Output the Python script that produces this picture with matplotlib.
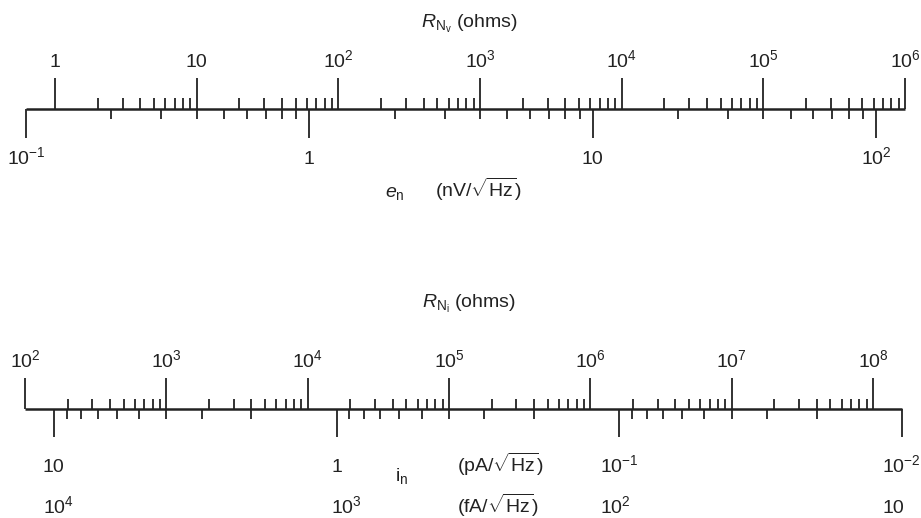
import matplotlib.pyplot as plt

plt.rcParams['font.family'] = ['Liberation Sans', 'DejaVu Sans']
plt.rcParams['mathtext.fontset'] = 'custom'
plt.rcParams['mathtext.rm'] = 'Liberation Sans'
plt.rcParams['mathtext.it'] = 'Liberation Sans:italic'
plt.rcParams['mathtext.bf'] = 'Liberation Sans:bold'

FOUR_KT = 1.6e-20  # 4kT at 290 K

# voltage noise: R_Nv = e_n^2 / 4kT
rnv_major = [1, 10, 1e2, 1e3, 1e4, 1e5, 1e6]
rnv_labels = ['1', '10', '10$^2$', '10$^3$', '10$^4$', '10$^5$', '10$^6$']
en_major = [0.1, 1, 10, 100]  # nV/sqrt(Hz)
en_labels = ['10$^{-1}$', '1', '10', '10$^2$']

# current noise: R_Ni = 4kT / i_n^2
rni_major = [1e2, 1e3, 1e4, 1e5, 1e6, 1e7, 1e8]
rni_labels = ['10$^2$', '10$^3$', '10$^4$', '10$^5$', '10$^6$', '10$^7$', '10$^8$']
in_major = [10, 1, 0.1, 0.01]  # pA/sqrt(Hz)
in_labels = ['10', '1', '10$^{-1}$', '10$^{-2}$']
in_fa_labels = ['10$^4$', '10$^3$', '10$^2$', '10']

minor_steps = [2, 3, 4, 5, 6, 7, 8, 9]


def r_from_en(en):
    return (en * 1e-9) ** 2 / FOUR_KT


def r_from_in(i):
    return FOUR_KT / (i * 1e-12) ** 2


ink = '#222222'
W, H = 921, 518

fig = plt.figure(figsize=(W / 100, H / 100), dpi=100)
fig.patch.set_facecolor('white')


def make_axes(bottom_frac, top_px, bot_px, x_first, px_first, px_per_dec):
    ax = fig.add_axes([0, bottom_frac, 1, 0.5])
    ax.set_xscale('log')
    ax.set_xlim(x_first * 10 ** (-px_first / px_per_dec),
                x_first * 10 ** ((W - px_first) / px_per_dec))
    ax.set_ylim(bot_px, top_px)
    ax.axis('off')
    return ax


def draw_scale(ax, y0, line_ends, up_major, up_minor, down_major, down_minor,
               maj_up=31, min_up=11, maj_dn=28, min_dn=10):
    ax.plot(line_ends, [y0, y0], color=ink, lw=1.8, solid_capstyle='butt')
    ax.vlines(up_major, y0 - maj_up, y0, color=ink, lw=1.3)
    ax.vlines(up_minor, y0 - min_up, y0, color=ink, lw=1.3)
    ax.vlines(down_major, y0, y0 + maj_dn, color=ink, lw=1.3)
    ax.vlines(down_minor, y0, y0 + min_dn, color=ink, lw=1.3)


fs = 14

# ---- upper nomograph: R_Nv against e_n ----
ax1 = make_axes(0.5, 0, H / 2, 1, 55, 141.67)
rnv_minor = [m * d for d in rnv_major[:-1] for m in minor_steps]
en_minor = [r_from_en(m * d) for d in en_major[:-1] for m in minor_steps]
en_major_r = [r_from_en(v) for v in en_major]
draw_scale(ax1, 109, [r_from_en(en_major[0]), rnv_major[-1]],
           rnv_major, rnv_minor, en_major_r, en_minor, maj_dn=29)
for x, lab in zip(rnv_major, rnv_labels):
    ax1.text(x, 67, lab, ha='center', va='baseline', fontsize=fs, color=ink)
for x, lab in zip(en_major_r, en_labels):
    ax1.text(x, 164, lab, ha='center', va='baseline', fontsize=fs, color=ink)
ax1.text(0.457, 28, r'$R_{\mathrm{N_v}}$ (ohms)', transform=ax1.get_yaxis_transform(),
         ha='left', va='baseline', fontsize=fs, color=ink)
ax1.text(0.418, 197, r'$e_{\mathrm{n}}$', transform=ax1.get_yaxis_transform(),
         ha='left', va='baseline', fontsize=fs, color=ink)
ax1.text(0.472, 197, r'(nV/$\sqrt{\mathrm{Hz}}$)', transform=ax1.get_yaxis_transform(),
         ha='left', va='baseline', fontsize=fs, color=ink)

# ---- lower nomograph: R_Ni against i_n ----
ax2 = make_axes(0, H / 2, H, 1e2, 25, 141.33)
rni_minor = [m * d for d in rni_major[:-1] for m in minor_steps]
in_minor = [r_from_in(m * d) for d in in_major[1:] for m in minor_steps]
in_major_r = [r_from_in(v) for v in in_major]
draw_scale(ax2, 409, [rni_major[0], r_from_in(in_major[-1])],
           rni_major, rni_minor, in_major_r, in_minor, min_up=10)
for x, lab in zip(rni_major, rni_labels):
    ax2.text(x, 367, lab, ha='center', va='baseline', fontsize=fs, color=ink)

# fA row sits under the pA row, left edges lined up
renderer = fig.canvas.get_renderer()
for x, lab, fa in zip(in_major_r, in_labels, in_fa_labels):
    t = ax2.text(x, 472, lab, ha='center', va='baseline', fontsize=fs, color=ink)
    left = t.get_window_extent(renderer).x0
    x_left = ax2.transData.inverted().transform((left, 0))[0]
    ax2.text(x_left, 513, fa, ha='left', va='baseline', fontsize=fs, color=ink)

ax2.text(0.458, 308, r'$R_{\mathrm{N_i}}$ (ohms)', transform=ax2.get_yaxis_transform(),
         ha='left', va='baseline', fontsize=fs, color=ink)
ax2.text(0.429, 481, r'i$_{\mathrm{n}}$', transform=ax2.get_yaxis_transform(),
         ha='left', va='baseline', fontsize=fs, color=ink)
ax2.text(0.496, 472, r'(pA/$\sqrt{\mathrm{Hz}}$)', transform=ax2.get_yaxis_transform(),
         ha='left', va='baseline', fontsize=fs, color=ink)
ax2.text(0.496, 513, r'(fA/$\sqrt{\mathrm{Hz}}$)', transform=ax2.get_yaxis_transform(),
         ha='left', va='baseline', fontsize=fs, color=ink)

fig.savefig('out.png', dpi=100, facecolor='white')
